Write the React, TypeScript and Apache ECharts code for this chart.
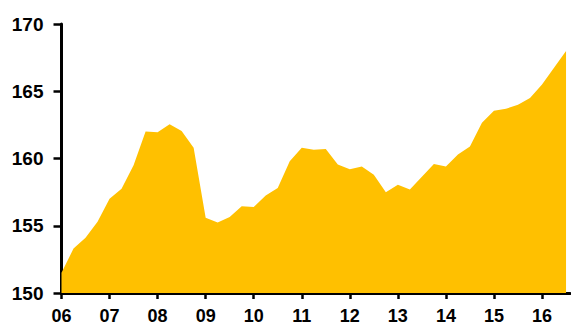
import React, { useEffect, useRef } from "react";
import * as echarts from "echarts";

// Quarterly values, 2006 Q1 to 2016 Q3
const values: number[] = [
  151.5, 153.3, 154.1, 155.3, 157.0, 157.75, 159.5, 162.0,
  161.95, 162.55, 162.05, 160.8, 155.6, 155.25, 155.65, 156.45,
  156.4, 157.25, 157.8, 159.8, 160.8, 160.65, 160.7, 159.55,
  159.2, 159.4, 158.8, 157.5, 158.05, 157.7, 158.65, 159.6,
  159.4, 160.3, 160.9, 162.65, 163.55, 163.7, 164.0, 164.5,
  165.5, 166.75, 168.0,
];
const yearLabels: string[] = ["06", "07", "08", "09", "10", "11", "12", "13", "14", "15", "16"];
const yTicks: number[] = [150, 155, 160, 165, 170];

export default function App() {
  const ref = useRef<HTMLDivElement>(null);
  useEffect(() => {
    if (!ref.current) return;
    const chart = echarts.init(ref.current, undefined, { renderer: "svg" });
    const data = values.map((v, i) => [i, v]);
    const yearTickVals = yearLabels.map((_, i) => i * 4);
    chart.setOption({
      animation: false,
      grid: {
        left: 61.5,
        right: 1,
        top: 24,
        bottom: 32,
        containLabel: false,
        outerBoundsMode: "none",
      },
      xAxis: {
        type: "value",
        min: 0,
        max: 42.33,
        splitLine: { show: false },
        axisLine: { show: true, onZero: false, lineStyle: { color: "#000", width: 3 } },
        axisTick: {
          show: true,
          customValues: yearTickVals,
          length: 6,
          lineStyle: { color: "#000", width: 2.5 },
        },
        axisLabel: {
          customValues: yearTickVals,
          formatter: (v: number) => yearLabels[Math.round(v / 4)] ?? "",
          color: "#000",
          fontFamily: "Liberation Sans, Arial, sans-serif",
          fontWeight: "bold",
          fontSize: 18,
          lineHeight: 14,
          margin: 15.5,
        },
      },
      yAxis: {
        type: "value",
        min: yTicks[0],
        max: yTicks[yTicks.length - 1],
        interval: 5,
        splitLine: { show: false },
        axisLine: { show: true, lineStyle: { color: "#000", width: 3 } },
        axisTick: { show: true, length: 8, lineStyle: { color: "#000", width: 2.5 } },
        axisLabel: {
          color: "#000",
          fontFamily: "Liberation Sans, Arial, sans-serif",
          fontWeight: "bold",
          fontSize: 19,
          margin: 18,
        },
      },
      series: [
        {
          type: "line",
          data,
          symbol: "none",
          lineStyle: { width: 0 },
          areaStyle: { color: "#FFC000", opacity: 1, origin: "start" },
          z: 1,
        },
      ],
    });
    return () => chart.dispose();
  }, []);
  return <div ref={ref} style={{ width: 571, height: 325, position: "absolute", left: 0, top: 0 }} />;
}
